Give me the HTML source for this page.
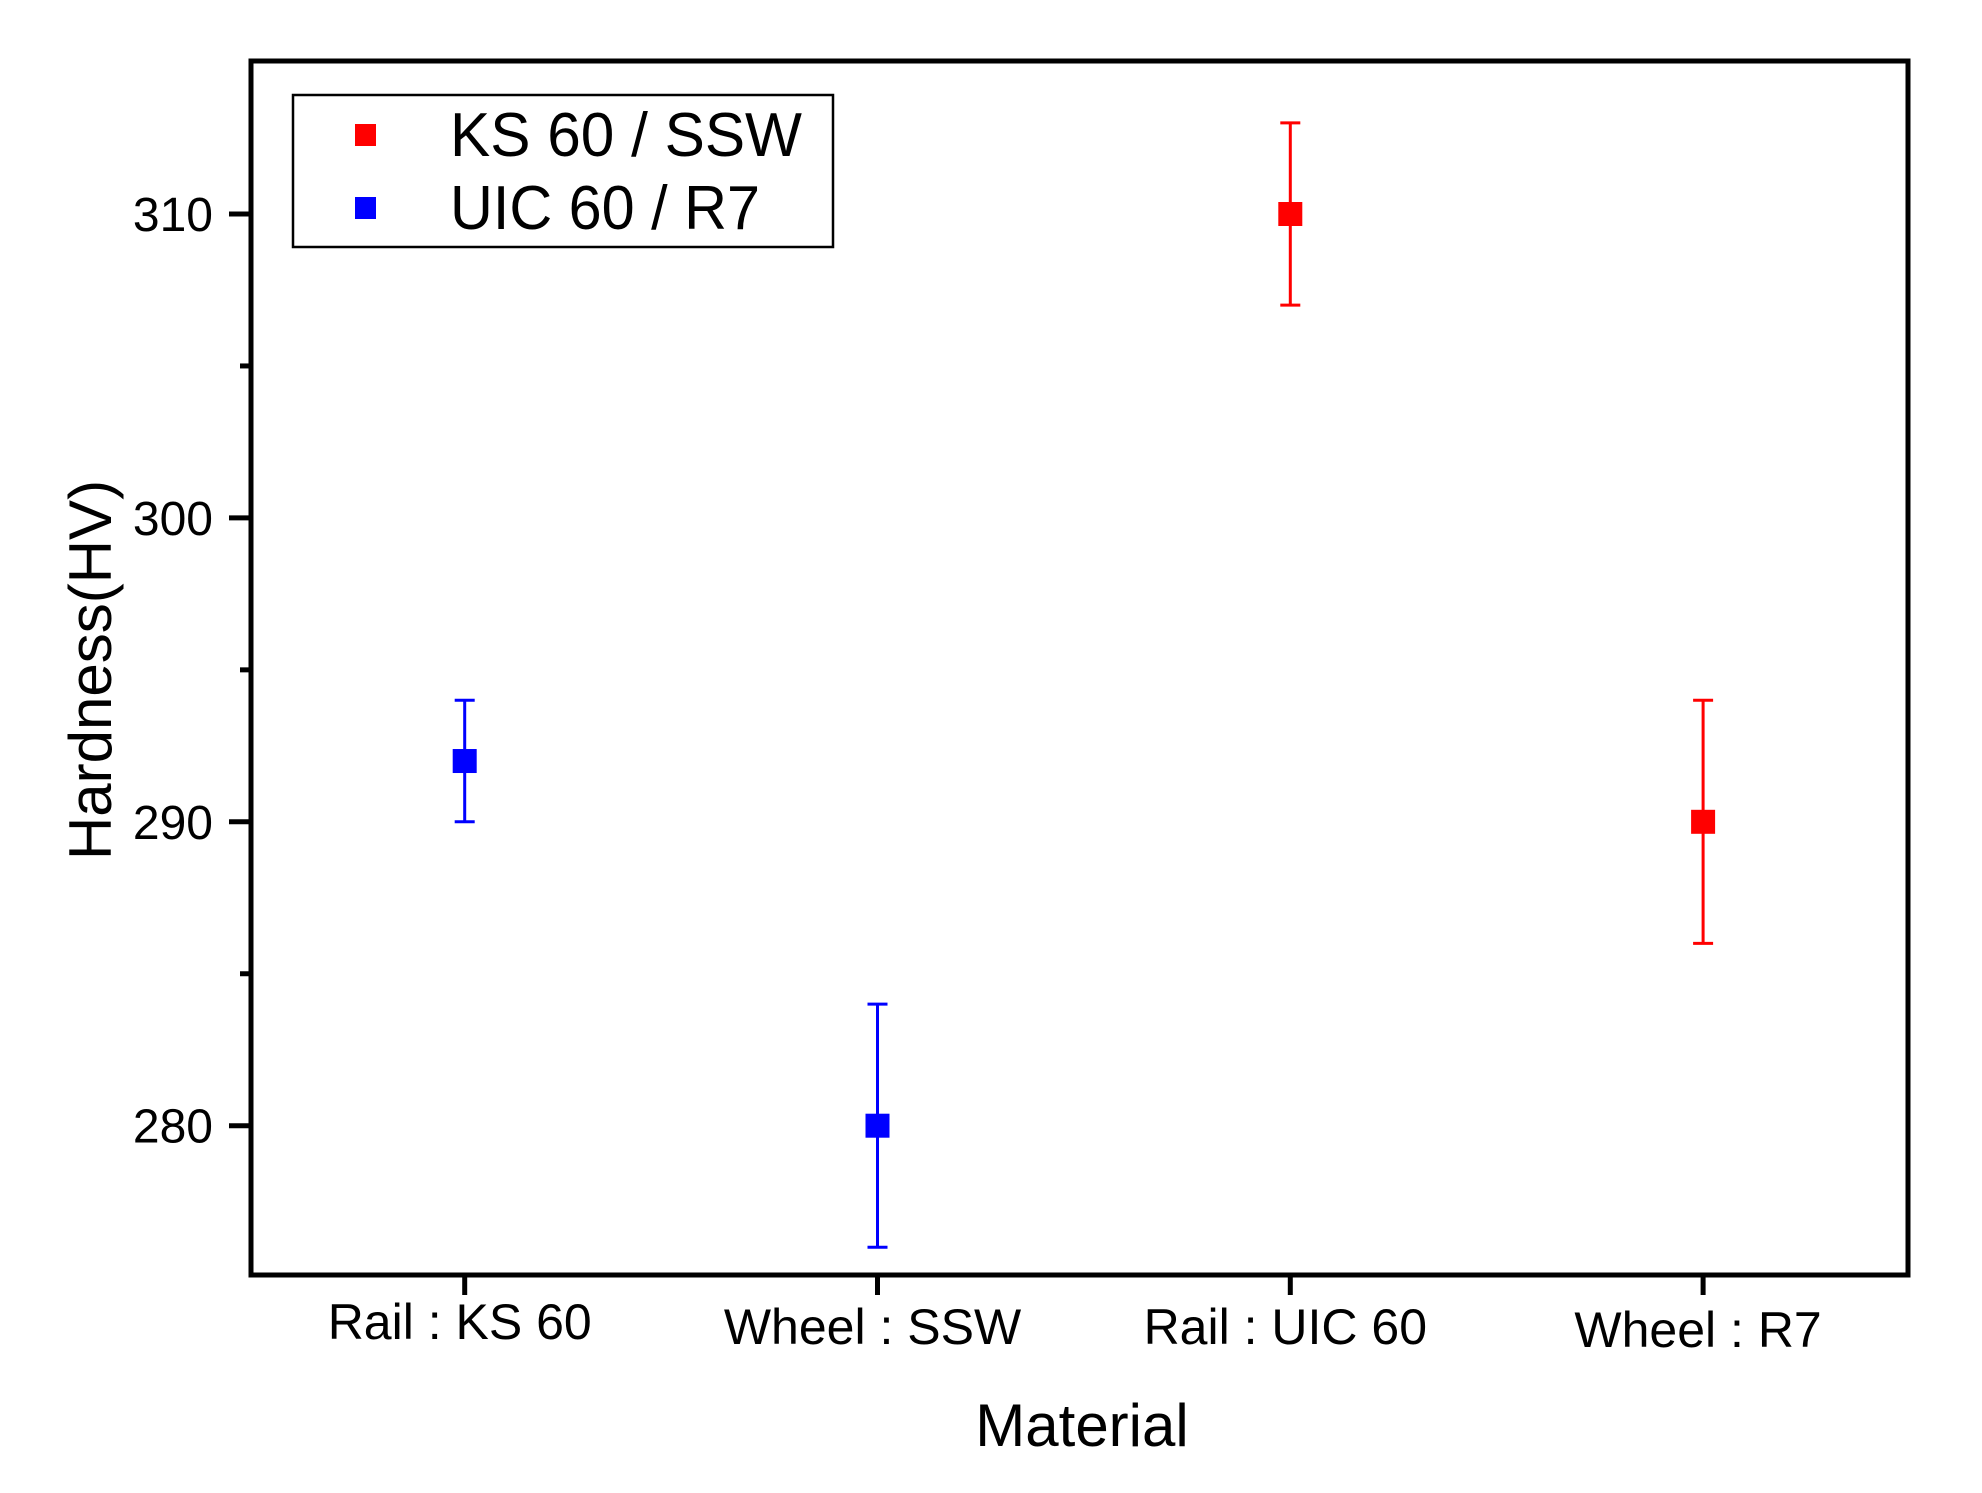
<!DOCTYPE html>
<html><head><meta charset="utf-8"><style>
html,body{margin:0;padding:0;background:#fff;}
svg{display:block;font-family:"Liberation Sans",Arial,sans-serif;}
</style></head><body>
<svg id="chart" width="1982" height="1493" viewBox="0 0 1982 1493">
<g id="plot"></g>
</svg>
<script>
const categories = ["Rail : KS 60", "Wheel : SSW", "Rail : UIC 60", "Wheel : R7"];
const redIdx = [2, 3];
const redValues = [310, 290];
const redErrors = [3, 4];
const blueIdx = [0, 1];
const blueValues = [292, 280];
const blueErrors = [2, 4];
const yTicks = [280, 290, 300, 310];
const yMinorTicks = [285, 295, 305];
const seriesNames = ["KS 60 / SSW", "UIC 60 / R7"];

const L = 251, R = 1908, T = 61, B = 1275;
function yScale(v){ return 1125.7 - (v - 280) * 30.39; }
function xScale(i){ return 464.7 + i * 412.8; }

const NS = "http://www.w3.org/2000/svg";
const g = document.getElementById("plot");
function mk(tag, attrs, parent){
  const e = document.createElementNS(NS, tag);
  for (const k in attrs) e.setAttribute(k, attrs[k]);
  (parent || g).appendChild(e);
  return e;
}

let fr = mk("rect", {x:L, y:T, width:R-L, height:B-T, fill:"none", stroke:"#000", "stroke-width":5});



yTicks.forEach(v => {
  const y = yScale(v);
  let t = mk("line", {x1:L-22, x2:L, y1:y, y2:y, stroke:"#000", "stroke-width":5});
  
  
  let tx = mk("text", {x:L-38, y:y+17, "text-anchor":"end", "font-size":48, fill:"#000"});
  tx.textContent = v;
  
  
});
yMinorTicks.forEach(v => {
  const y = yScale(v);
  let t = mk("line", {x1:L-11, x2:L, y1:y, y2:y, stroke:"#000", "stroke-width":5});
  
  
});

const labelDy = [0, 5, 5, 8];
categories.forEach((c, i) => {
  const x = xScale(i);
  let t = mk("line", {x1:x, x2:x, y1:B, y2:B+20, stroke:"#000", "stroke-width":5});
  
  
  let tx = mk("text", {x:x-5, y:1339+labelDy[i], "text-anchor":"middle", "font-size":50, fill:"#000"});
  tx.textContent = c;
  
  
});

let xt = mk("text", {x:1082, y:1446, "text-anchor":"middle", "font-size":60, fill:"#000"});
xt.textContent = "Material";


let yt = mk("text", {x:0, y:0, "text-anchor":"middle", "font-size":60, fill:"#000", transform:"translate(111,670) rotate(-90)"});
yt.textContent = "Hardness(HV)";



function drawSeries(idx, vals, errs, color, name){
  idx.forEach((ci, k) => {
    const x = xScale(ci);
    const y = yScale(vals[k]);
    const y1 = yScale(vals[k] + errs[k]), y2 = yScale(vals[k] - errs[k]);
    let eb = mk("path", {d:`M${x},${y1}V${y2}M${x-10},${y1}H${x+10}M${x-10},${y2}H${x+10}`, stroke:color, "stroke-width":3, fill:"none"});
    
    
    let p = mk("rect", {x:x-12, y:y-12, width:24, height:24, fill:color});
    
    
  });
}
drawSeries(redIdx, redValues, redErrors, "#ff0000", "ks60-ssw");
drawSeries(blueIdx, blueValues, blueErrors, "#0000ff", "uic60-r7");

const lg = mk("g", {});


mk("rect", {x:293, y:95, width:540, height:152, fill:"#fff", stroke:"#000", "stroke-width":2.5}, lg);
const legColors = ["#ff0000", "#0000ff"];
seriesNames.forEach((n, i) => {
  const cy = 134 + i * 73;
  let e = mk("g", {}, lg);
  
  
  mk("rect", {x:355, y:cy-10, width:21, height:22, fill:legColors[i]}, e);
  let t = mk("text", {x:450, y:cy+22, "font-size":62, fill:"#000", textLength:i===0?352:310, lengthAdjust:"spacingAndGlyphs"}, e);
  t.textContent = n;
});
</script>
</body></html>
